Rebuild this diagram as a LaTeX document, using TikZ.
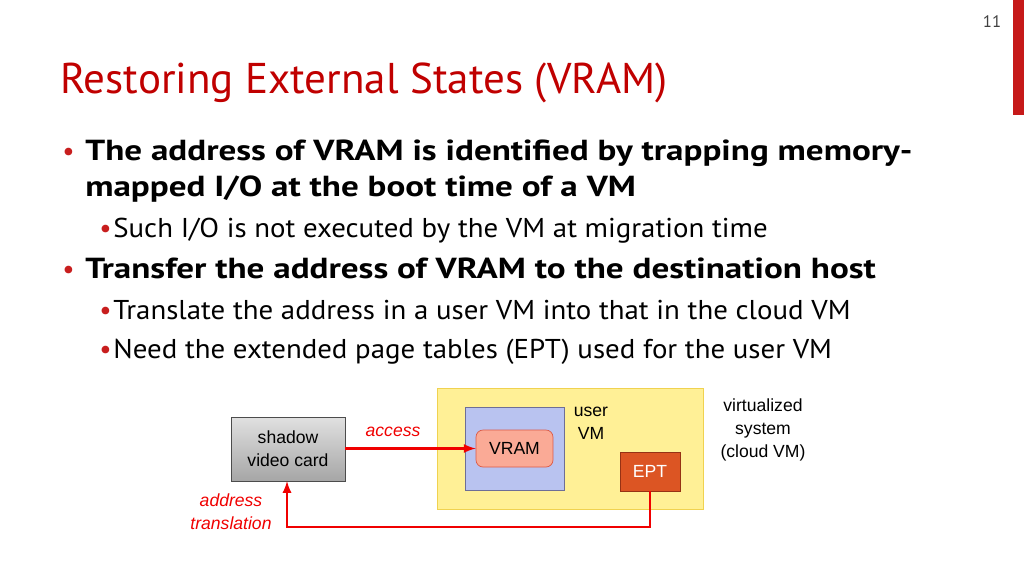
\documentclass[tikz,border=0pt]{standalone}
\usepackage{fontspec}
\setmainfont{PT Sans}
\newfontfamily\diagfont{Liberation Sans}
\usetikzlibrary{positioning,calc}
\definecolor{titlered}{RGB}{192,0,0}
\definecolor{bulletred}{RGB}{200,30,30}
\definecolor{arrowred}{RGB}{240,0,0}
\definecolor{yellowfill}{RGB}{255,240,150}
\definecolor{yellowline}{RGB}{240,210,80}
\definecolor{bluefill}{RGB}{185,195,240}
\definecolor{blueline}{RGB}{110,110,150}
\definecolor{vramfill}{RGB}{250,170,150}
\definecolor{vramline}{RGB}{220,90,70}
\definecolor{eptfill}{RGB}{220,85,35}
\definecolor{eptline}{RGB}{150,50,20}
\newcommand{\widebold}[1]{\scalebox{1.21}[1]{#1}}
\newcommand{\widebody}[1]{\scalebox{1.06}[1]{#1}}
\tikzset{
  bodytext/.style={anchor=base west, inner sep=0pt, font=\fontsize{15.5}{18}\selectfont},
  boldtext/.style={anchor=base west, inner sep=0pt, font=\fontsize{16.5}{19}\selectfont\bfseries},
  bulletmark/.style={anchor=base west, inner sep=0pt, text=bulletred, font=\fontsize{15.5}{18}\selectfont},
  diagtext/.style={font=\diagfont\fontsize{10}{13}\selectfont, align=center, inner sep=0pt},
  redlabel/.style={diagtext, text=arrowred, font=\diagfont\itshape\fontsize{10}{13}\selectfont},
  redarrow/.style={draw=arrowred, line width=1.3pt, -latex}
}
\begin{document}
\begin{tikzpicture}[x=0.02cm, y=-0.02cm]
  \useasboundingbox (0,0) rectangle (1024,576);

  % page number and side bar
  \fill[titlered!90] (1013,0) rectangle (1024,115);
  \node[text=black!75, font=\fontsize{9.5}{11}\selectfont] (pagenum) at (992,22) {11};

  % Title
  \node[anchor=base west, inner sep=0pt, text=titlered, font=\fontsize{24.5}{28}\selectfont] (title) at (60,93) {Restoring External States (VRAM)};

  % Bullets
  \node[bulletmark] (b1) at (62,160) {\textbullet};
  \node[boldtext] (t1a) at (85,160) {\widebold{The address of VRAM is identified by trapping memory-}};
  \node[boldtext] (t1b) at (85,196) {\widebold{mapped I/O at the boot time of a VM}};
  \node[bulletmark] (s1) at (99,237) {\textbullet};
  \node[bodytext] (u1) at (113,237) {\widebody{Such I/O is not executed by the VM at migration time}};
  \node[bulletmark] (b2) at (62,278) {\textbullet};
  \node[boldtext] (t2) at (85,278) {\widebold{Transfer the address of VRAM to the destination host}};
  \node[bulletmark] (s2) at (99,319) {\textbullet};
  \node[bodytext] (u2) at (113,319) {\widebody{Translate the address in a user VM into that in the cloud VM}};
  \node[bulletmark] (s3) at (99,358) {\textbullet};
  \node[bodytext] (u3) at (113,358) {\widebody{Need the extended page tables (EPT) used for the user VM}};

  % Boxes
  \draw[yellowline, fill=yellowfill] (437,388) rectangle (703,509);
  \draw[blueline, fill=bluefill] (465,407) rectangle (564,490);
  \node[draw=vramline, fill=vramfill, rounded corners=4pt, diagtext,
        minimum width=1.54cm, minimum height=0.74cm] (vram) at (514.5,448.5) {VRAM};
  \node[draw=eptline, fill=eptfill, text=white, diagtext, minimum width=1.2cm, minimum height=0.78cm] (ept) at (650,471.5) {EPT};
  \node[draw=black!70, top color=black!12, bottom color=black!35, diagtext,
        minimum width=2.28cm, minimum height=1.28cm] (shadow) at (288,449) {shadow\\video card};
  \node[diagtext] (uservm) at (591,423) {user\\VM};
  \node[diagtext] (cloud) at (763,430) {virtualized\\system\\(cloud VM)};

  % Arrows
  \draw[redarrow] (shadow.east |- vram.west) -- (vram.west);
  \node[redlabel] (access) at (393,432) {access};
  \coordinate (turn) at (ept.south |- 0,527);
  \draw[redarrow] (ept.south) -- (turn) -- (turn -| 287,0) -- (287,481);
  \node[redlabel] (translabel) at (231,512) {address\\translation};
\end{tikzpicture}
\end{document}
